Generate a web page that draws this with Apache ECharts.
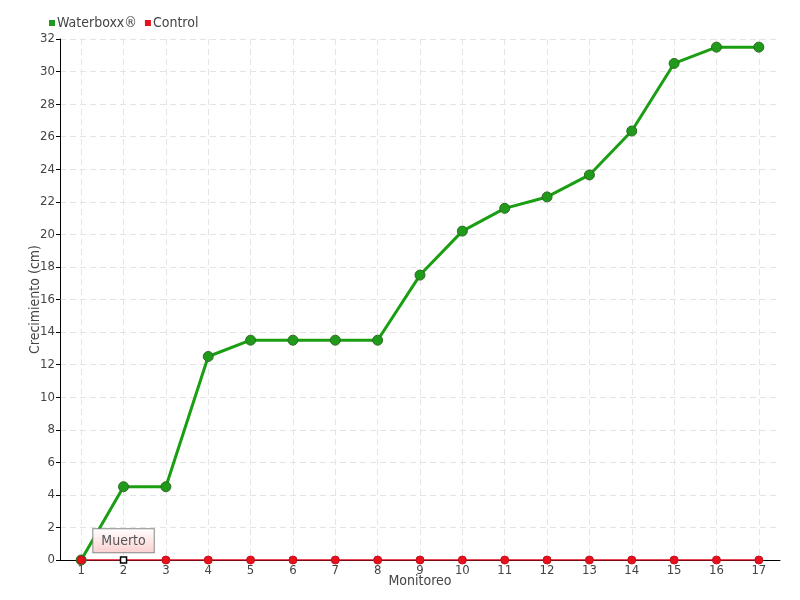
<!DOCTYPE html>
<html>
<head>
<meta charset="utf-8">
<script src="https://cdn.jsdelivr.net/npm/echarts@6/dist/echarts.min.js"></script>
<style>
  html, body { margin: 0; padding: 0; background: #fff; }
  #chart { width: 800px; height: 600px; }
</style>
</head>
<body>
<div id="chart"></div>
<script>
const categories = ['1', '2', '3', '4', '5', '6', '7', '8', '9', '10', '11', '12', '13', '14', '15', '16', '17']
const waterboxx = [0, 4.5, 4.5, 12.5, 13.5, 13.5, 13.5, 13.5, 17.5, 20.2, 21.6, 22.3, 23.65, 26.35, 30.5, 31.5, 31.5]
const control = [0, 0, 0, 0, 0, 0, 0, 0, 0, 0, 0, 0, 0, 0, 0, 0, 0]
const deadIndex = 1
const deadLabel = 'Muerto'

const font = '"Liberation Sans Narrow", "DejaVu Sans Condensed", sans-serif'
const chart = echarts.init(document.getElementById('chart'))

const controlData = control.map((v, i) => {
  if (i !== deadIndex) return v
  return {
    value: v,
    symbol: 'rect',
    symbolSize: 6,
    itemStyle: { color: '#fff', borderColor: '#000', borderWidth: 1.5 },
    label: {
      show: true,
      position: 'top',
      distance: 4,
      formatter: deadLabel,
      color: '#555',
      fontSize: 14,
      fontFamily: font,
      padding: [5, 8, 4, 8],
      borderColor: '#888',
      borderWidth: 1,
      backgroundColor: {
        type: 'linear', x: 0, y: 0, x2: 0, y2: 1,
        colorStops: [{ offset: 0, color: '#ffffff' }, { offset: 1, color: '#fbd0d0' }]
      }
    }
  }
})

chart.setOption({
  animation: false,
  textStyle: { fontFamily: font },
  legend: {
    left: 44,
    top: 11,
    itemWidth: 6,
    itemHeight: 6,
    itemGap: 8,
    icon: 'rect',
    itemStyle: { borderWidth: 0 },
    textStyle: { fontSize: 14, color: '#444', padding: [0, 0, 0, -3] },
    data: ['Waterboxx®', 'Control']
  },
  grid: { left: 60, right: 20, top: 39, bottom: 40 },
  xAxis: {
    type: 'category',
    data: categories,
    boundaryGap: true,
    name: 'Monitoreo',
    nameLocation: 'middle',
    nameGap: 14,
    nameMoveOverlap: false,
    nameTextStyle: { fontSize: 14, color: '#444' },
    axisLine: { lineStyle: { color: '#000' } },
    axisTick: { alignWithLabel: true, length: 5, lineStyle: { color: '#000' } },
    axisLabel: { fontSize: 13, color: '#444', margin: 4 },
    splitLine: { show: true, alignWithLabel: true, lineStyle: { color: '#e4e4e4', type: [6, 4] } }
  },
  yAxis: {
    type: 'value',
    min: 0,
    max: 32,
    interval: 2,
    name: 'Crecimiento (cm)',
    nameLocation: 'middle',
    nameGap: 18,
    nameMoveOverlap: false,
    nameTextStyle: { fontSize: 14, color: '#444' },
    axisLine: { show: true, lineStyle: { color: '#000' } },
    axisTick: { show: true, length: 4, lineStyle: { color: '#000' } },
    axisLabel: { fontSize: 13, color: '#444', margin: 5 },
    splitLine: { lineStyle: { color: '#e4e4e4', type: [6, 4] } }
  },
  series: [
    {
      name: 'Waterboxx®',
      type: 'line',
      data: waterboxx,
      color: '#22a01c',
      symbol: 'circle',
      symbolSize: 10,
      lineStyle: { width: 3, color: '#1a9e12' },
      itemStyle: { color: '#1f9a1a', borderColor: '#2e6b22', borderWidth: 1 }
    },
    {
      name: 'Control',
      type: 'line',
      data: controlData,
      color: '#e8101c',
      symbol: 'circle',
      symbolSize: 8,
      lineStyle: { width: 1.5, color: '#e01020' },
      itemStyle: { color: '#e8101c', borderColor: '#c0101c', borderWidth: 1 },
      z: 3
    }
  ]
})
</script>
</body>
</html>
